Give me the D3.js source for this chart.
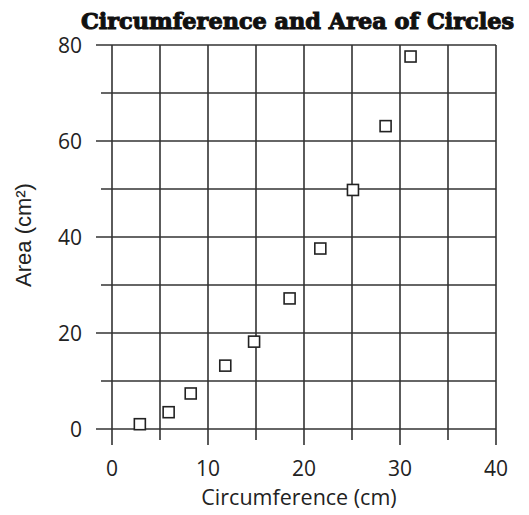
<!DOCTYPE html>
<html>
<head>
<meta charset="utf-8">
<script src="https://cdn.jsdelivr.net/npm/d3@7"></script>
<style>
  body { margin: 0; background: #fff; }
  svg { display: block; }
</style>
</head>
<body>
<div id="chart"></div>
<script>
// valores
let circumference = [2.9, 5.9, 8.2, 11.8, 14.8, 18.5, 21.7, 25.1, 28.5, 31.1];
let area = [1.0, 3.5, 7.4, 13.2, 18.2, 27.2, 37.6, 49.8, 63.1, 77.6];
let xTicks = [0, 10, 20, 30, 40];
let xGrid = [0, 5, 10, 15, 20, 25, 30, 35, 40];
let yTicks = [0, 20, 40, 60, 80];
let yGrid = [0, 10, 20, 30, 40, 50, 60, 70, 80];

let width = 529;
let height = 515;
let margin = {top: 45, right: 33, bottom: 86, left: 112};
let lineColor = '#333';

let svg = d3.select('#chart').append('svg')
    .attr('width', width)
    .attr('height', height);

let x = d3.scaleLinear().domain([0, 40]).range([margin.left, width - margin.right]);
let y = d3.scaleLinear().domain([0, 80]).range([height - margin.bottom, margin.top]);

// lineas horizontales (las mayores salen mas a la izquierda)
svg.append('g').selectAll('line')
    .data(yGrid)
    .join('line')
    .attr('x1', d => yTicks.includes(d) ? x(0) - 16 : x(0) - 11)
    .attr('x2', x(40))
    .attr('y1', d => y(d))
    .attr('y2', d => y(d))
    .attr('stroke', lineColor)
    .attr('stroke-width', 1.6);

// lineas verticales (bajan por debajo del eje)
svg.append('g').selectAll('line')
    .data(xGrid)
    .join('line')
    .attr('x1', d => x(d))
    .attr('x2', d => x(d))
    .attr('y1', y(80))
    .attr('y2', d => xTicks.includes(d) ? y(0) + 16 : y(0) + 11)
    .attr('stroke', lineColor)
    .attr('stroke-width', 1.6);

// etiquetas de los ejes
svg.append('g').selectAll('text')
    .data(xTicks)
    .join('text')
    .attr('x', d => x(d))
    .attr('y', 476)
    .attr('text-anchor', 'middle')
    .style('font-family', 'Open Sans, sans-serif')
    .style('font-size', '21px')
    .style('fill', '#222')
    .text(d => d);

svg.append('g').selectAll('text')
    .data(yTicks)
    .join('text')
    .attr('x', 82)
    .attr('y', d => y(d))
    .attr('dy', '0.36em')
    .attr('text-anchor', 'end')
    .style('font-family', 'Open Sans, sans-serif')
    .style('font-size', '21px')
    .style('fill', '#222')
    .text(d => d);

// puntos cuadrados
let size = 11;
svg.append('g').selectAll('rect')
    .data(circumference.map((c, i) => [c, area[i]]))
    .join('rect')
    .attr('x', d => x(d[0]) - size / 2)
    .attr('y', d => y(d[1]) - size / 2)
    .attr('width', size)
    .attr('height', size)
    .attr('fill', '#fff')
    .attr('stroke', '#222')
    .attr('stroke-width', 1.6);

// titulo
svg.append('text')
    .attr('x', 81)
    .attr('y', 29)
    .attr('textLength', 433)
    .attr('lengthAdjust', 'spacingAndGlyphs')
    .style('font-family', 'DejaVu Serif, serif')
    .style('font-weight', 'bold')
    .style('font-size', '23px')
    .style('fill', '#111')
    .style('stroke', '#111')
    .style('stroke-width', '1.1px')
    .text('Circumference and Area of Circles');

svg.append('text')
    .attr('x', 299)
    .attr('y', 505)
    .attr('text-anchor', 'middle')
    .style('font-family', 'Open Sans, sans-serif')
    .style('font-size', '21.5px')
    .style('fill', '#222')
    .text('Circumference (cm)');

svg.append('text')
    .attr('transform', 'translate(31,235) rotate(-90)')
    .attr('text-anchor', 'middle')
    .style('font-family', 'Liberation Sans, Arial, sans-serif')
    .style('font-size', '22px')
    .style('fill', '#222')
    .text('Area (cm²)');
</script>
</body>
</html>
